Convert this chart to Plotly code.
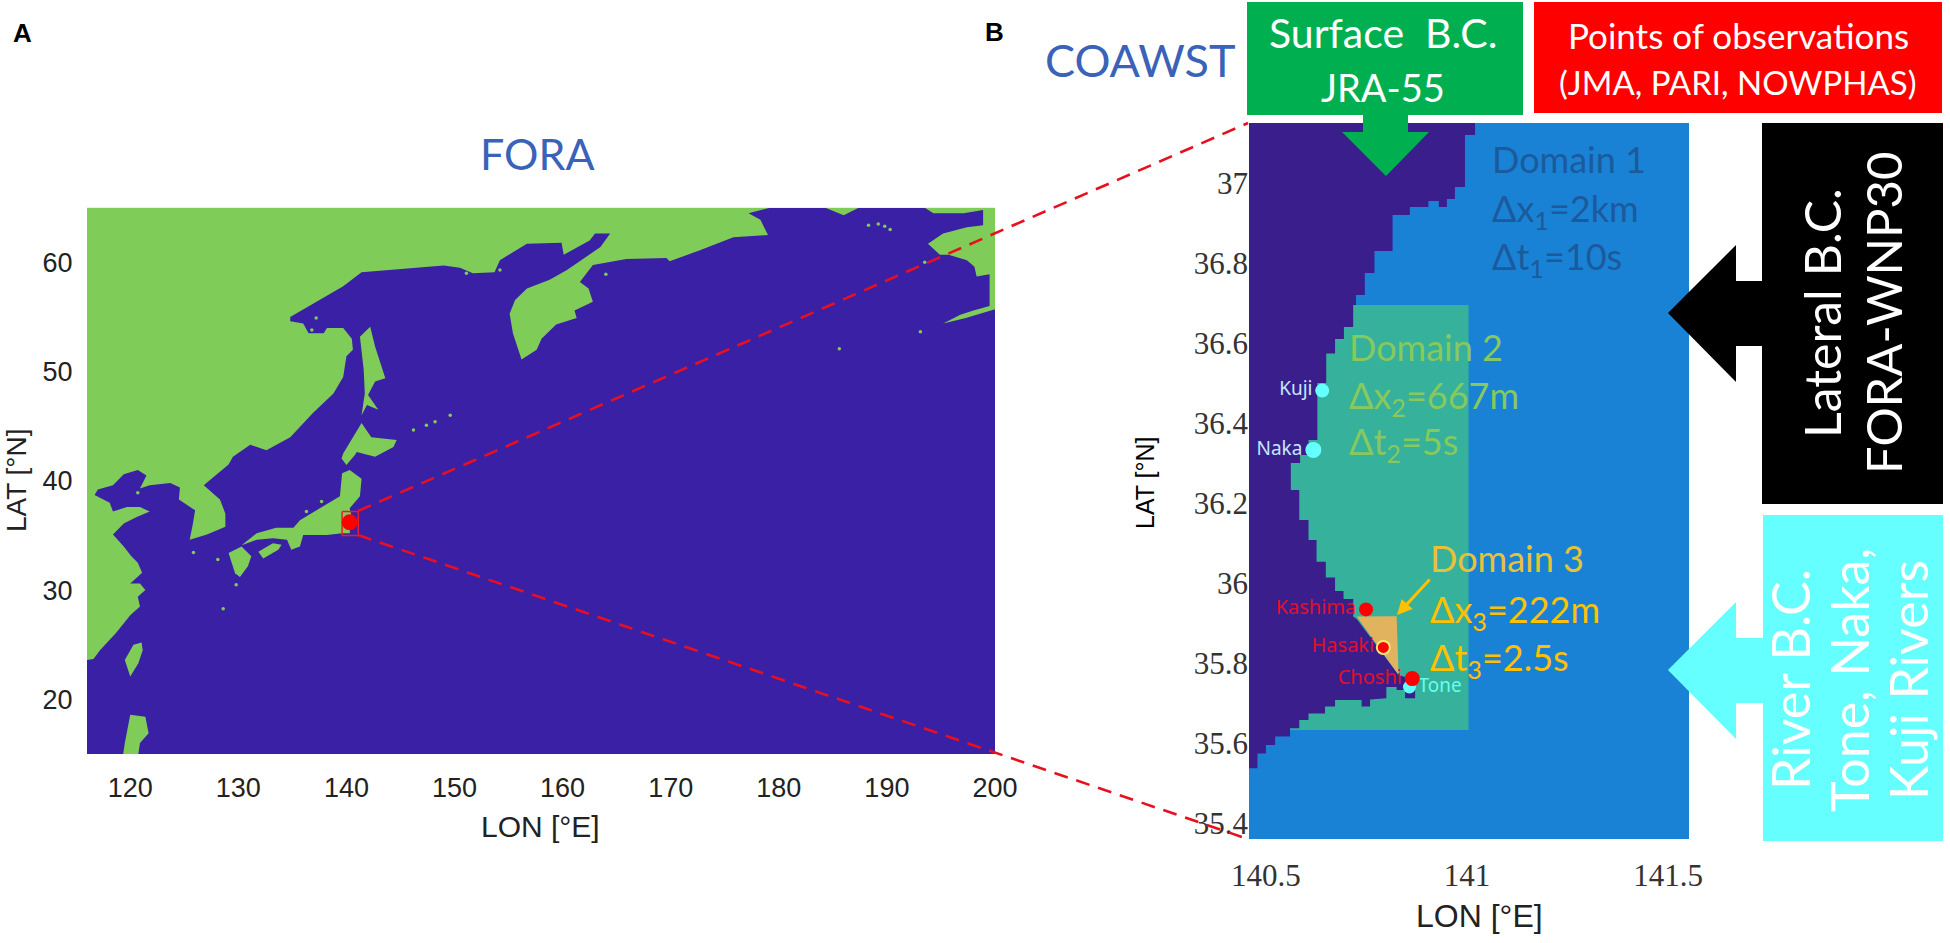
import plotly.graph_objects as go

W, H = 1950, 943
# ---------- Panel A data (lon / lat) ----------
asia_lon = [116,116.6,117.2,118.7,120.0,120.9,120.7,121.4,120.9,120.0,121.1,120.7,120.1,119.4,118.4,119.4,120.6,121.8,120.9,119.7,118.4,118.1,116.7,117.0,118.4,119.4,120.7,121.5,120.9,121.8,123.7,124.6,124.5,126.0,125.8,125.5,127.1,128.8,128.8,128.3,126.8,129.1,129.5,131.1,132.6,134.8,136.9,138.8,139.7,140.0,140.6,140.5,139.7,138.2,137.9,136.5,136.0,134.8,134.8,138.1,139.7,141.4,145.6,149.0,150.5,151.7,153.7,154.2,156.7,159.9,160.1,162.5,163.0,164.4,163.5,160.4,158.8,156.7,155.6,155.1,155.4,156.2,157.6,158.05,159.4,161.3,161.1,162.8,162.4,161.6,162.8,165.9,169.6,169.9,172.7,175.8,179.0,178.3,177.2,179.2,179.2,116]
asia_lat = [23.6,23.7,24.5,26.1,27.7,28.5,29.4,30.0,30.6,30.6,31.6,32.5,33.1,34.0,35.1,36.1,36.7,37.2,37.6,37.6,37.2,38.0,38.7,39.2,39.6,40.6,41.0,40.5,39.3,39.6,39.8,39.4,38.3,37.3,36.1,34.6,35.1,35.8,37.0,38.3,39.6,41.5,42.2,43.3,42.8,44.0,46.2,48.0,49.5,51.4,52.0,53.0,54.0,54.0,53.5,53.5,54.4,54.6,55.0,56.9,57.8,59.1,59.4,59.7,59.5,59.0,59.1,60.2,61.7,61.8,60.7,62.0,62.65,62.65,61.4,59.3,58.4,57.6,56.55,55.3,53.5,51.1,52.0,53.0,54.3,54.9,55.6,56.4,57.6,58.2,59.75,60.3,60.4,60.1,61.1,62.3,62.5,63.9,64.5,64.95,65,65]
honshu_lon = [130.3,131.7,133.5,135.1,135.7,137.2,139.4,139.6,140.3,141.4,141.25,140.3,140.5,140.3,139.6,138.2,136.0,135.7,134.9,134.5,133.2,131.7]
honshu_lat = [34.1,35.2,35.7,35.7,36.4,37.3,38.6,40.7,41.0,40.2,38.6,37.5,36.7,35.2,35.2,35.05,35.05,34.0,33.7,34.6,34.75,34.6]
shikoku_lon = [131.85,133.2,134.0,133.7,132.3]
shikoku_lat = [33.5,34.3,34.15,33.7,32.9]
kyushu_lon = [129.1,130.3,131.2,130.9,130.15,129.7,129.4]
kyushu_lat = [33.4,34.0,33.1,32.2,31.2,31.55,32.45]
hokkaido_lon = [141.4,142.3,144.65,144.35,142.65,140.95,140.8,140.0,139.55,139.7]
hokkaido_lat = [45.3,44.0,43.75,43.1,42.2,42.65,42.4,41.45,42.05,42.5]
sakhalin_lon = [142.2,142.65,143.6,142.65,142.0,142.95,141.9,141.4,141.7,141.6,141.25]
sakhalin_lat = [54.1,52.3,49.4,49.1,47.85,46.5,46.95,46.0,48.0,50.15,53.2]
taiwan_lon = [121.05,120.3,119.5,120.0,120.75,121.15]
taiwan_lat = [25.2,25.0,23.6,22.1,23.3,24.5]
luzon_lon = [120.0,121.4,121.7,120.9,120.75,119.35,119.5,119.8]
luzon_lat = [18.6,18.4,16.9,16.0,15,15,16.0,17.5]
alaska_lon = [193.5,194.3,197.1,198.9,198.9,197.4,195.2,193.8,194.9,195.7,197.4,198.1,198.3,199.5,199.5,198.0,196.8,195.2,197.3,200,200]
alaska_lat = [65,64.5,64.5,64.8,63.4,63.2,62.65,61.7,60.7,60.7,60.2,59.6,58.7,58.9,56.0,55.6,55.2,54.4,54.9,55.7,65]
chukchi_lon = [184.3,186.0,187.4]
chukchi_lat = [65,64.3,65]
islet_lon = [147.4,148.2,149.6,146.2,137.2,136.8,125.85,128.1,129.8,128.6,136.3,137.7,120.7,188.3,189.2,189.8,190.3,193.5,193.1,185.6,164.0,154.2,151.1]
islet_lat = [45.1,45.4,46.0,44.65,54.9,53.8,33.45,32.8,30.5,28.3,37.2,38.1,38.9,63.4,63.5,63.3,63.0,60.0,53.65,52.1,58.9,59.3,59.0]
box_lon = [139.6,141.1,141.1,139.6,139.6]
box_lat = [37.2,37.2,35.0,35.0,37.2]
area_lon = [140.3]
area_lat = [36.2]

# ---------- Panel B data (lon / lat) ----------
land_lon = [140.458,141.02,141.02,140.995,140.995,140.97,140.97,140.95,140.95,140.93,140.93,140.904,140.904,140.858,140.858,140.815,140.815,140.77,140.77,140.746,140.746,140.724,140.724,140.717,140.717,140.694,140.694,140.672,140.672,140.65,140.65,140.628,140.628,140.606,140.606,140.585,140.585,140.562,140.562,140.583,140.583,140.606,140.606,140.626,140.626,140.649,140.649,140.672,140.672,140.693,140.693,140.717,140.717,140.726,140.83,140.842,140.871,140.871,140.846,140.846,140.825,140.825,140.7995,140.7995,140.759,140.759,140.738,140.738,140.672,140.672,140.647,140.647,140.606,140.606,140.583,140.583,140.56,140.56,140.523,140.523,140.5,140.5,140.479,140.479,140.458]
land_lat = [37.15,37.15,37.12,37.12,36.99,36.99,36.96,36.96,36.94,36.94,36.955,36.955,36.94,36.94,36.92,36.92,36.83,36.83,36.775,36.775,36.72,36.72,36.695,36.695,36.64,36.64,36.61,36.61,36.574,36.574,36.5,36.5,36.3575,36.3575,36.32,36.32,36.30,36.30,36.2325,36.2325,36.1575,36.1575,36.1075,36.1075,36.053,36.053,36.014,36.014,35.98,35.98,35.96,35.96,35.916,35.91,35.77,35.766,35.757,35.712,35.712,35.7325,35.7325,35.74,35.74,35.712,35.709,35.691,35.691,35.7075,35.7075,35.691,35.691,35.674,35.674,35.6575,35.6575,35.637,35.637,35.616,35.616,35.595,35.595,35.574,35.574,35.537,35.537]
d1_lon = [140.458,141.552,141.552,140.458]
d1_lat = [37.15,37.15,35.36,35.36]
d2_lon = [140.458,141.004,141.004,140.458]
d2_lat = [36.695,36.695,35.6325,35.6325]
d3_lon = [140.726,140.825,140.83]
d3_lat = [35.916,35.917,35.77]
river_names = ["Kuji","Naka","Tone"]
river_lon = [140.64,140.618,140.857]
river_lat = [36.481,36.3325,35.74]
obs_names = ["Kashima","Hasaki","Choshi"]
obs_lon = [140.749,140.792,140.864]
obs_lat = [35.934,35.839,35.761]

a_xticks = [120,130,140,150,160,170,180,190,200]
a_yticks = [20,30,40,50,60]
b_xticks = [140.5,141,141.5]
b_xlabels = ["140.5","141","141.5"]
b_yticks = [35.4,35.6,35.8,36,36.2,36.4,36.6,36.8,37]
b_ylabels = ["35.4","35.6","35.8","36","36.2","36.4","36.6","36.8","37"]

OCEAN, GREEN = "#3a20a5", "#80cc58"
BLAND, BLUE, TEAL, TAN = "#3a1f8c", "#1a82d4", "#36b19b", "#e2b35f"
SANS, SERIF, CAL = "Liberation Sans", "Liberation Serif", "Lato"

def fx(p): return p / W
def fy(p): return 1 - p / H

fig = go.Figure()

def poly(lon, lat, color, ax="x", ay="y", name=""):
    fig.add_trace(go.Scatter(x=list(lon)+[lon[0]], y=list(lat)+[lat[0]], mode="lines", fill="toself",
                             fillcolor=color, line=dict(width=0, color=color), hoverinfo="skip",
                             xaxis=ax, yaxis=ay, name=name, showlegend=False))

# Panel A
poly([116,200,200,116],[65,65,15,15],OCEAN)
for lo, la in [(asia_lon,asia_lat),(honshu_lon,honshu_lat),(shikoku_lon,shikoku_lat),(kyushu_lon,kyushu_lat),
               (hokkaido_lon,hokkaido_lat),(sakhalin_lon,sakhalin_lat),(taiwan_lon,taiwan_lat),(luzon_lon,luzon_lat),
               (alaska_lon,alaska_lat),(chukchi_lon,chukchi_lat)]:
    poly(lo, la, GREEN)
fig.add_trace(go.Scatter(x=islet_lon,y=islet_lat,mode="markers",marker=dict(color=GREEN,size=3.5,line=dict(width=0)),hoverinfo="skip",showlegend=False))
fig.add_trace(go.Scatter(x=box_lon,y=box_lat,mode="lines",line=dict(color="#e81a2c",width=1.5),hoverinfo="skip",showlegend=False))
fig.add_trace(go.Scatter(x=area_lon,y=area_lat,mode="markers",marker=dict(color="#ff0000",size=16,line=dict(width=0)),hoverinfo="skip",showlegend=False))

# Panel B
poly(d1_lon,d1_lat,BLUE,"x2","y2")
poly(d2_lon,d2_lat,TEAL,"x2","y2")
poly(land_lon,land_lat,BLAND,"x2","y2")
poly(d3_lon,d3_lat,TAN,"x2","y2")
fig.add_trace(go.Scatter(x=river_lon[:2],y=river_lat[:2],mode="markers+text",text=river_names[:2],textposition="middle left",
    marker=dict(color="#66ffff",size=[14,16],opacity=1,line=dict(width=0)),textfont=dict(family="Noto Sans",size=19,color="#c4e8ff"),
    xaxis="x2",yaxis="y2",hoverinfo="skip",showlegend=False))
fig.add_trace(go.Scatter(x=river_lon[2:],y=river_lat[2:],mode="markers+text",text=river_names[2:],textposition="middle right",
    marker=dict(color="#66ffff",size=13,opacity=1,line=dict(width=0)),textfont=dict(family="Noto Sans",size=19,color="#66ffee"),
    xaxis="x2",yaxis="y2",hoverinfo="skip",showlegend=False))
fig.add_trace(go.Scatter(x=obs_lon,y=obs_lat,mode="markers+text",text=obs_names,textposition="middle left",
    marker=dict(color="#ff0000",size=[14,13,15],opacity=1,line=dict(width=[0,2,0],color="#f4e87a")),
    textfont=dict(family="Noto Sans",size=20,color="#e0102a"),
    xaxis="x2",yaxis="y2",hoverinfo="skip",showlegend=False))

shapes = []
def rect(x0,y0,x1,y1,c):
    shapes.append(dict(type="rect",xref="paper",yref="paper",x0=fx(x0),x1=fx(x1),y0=fy(y1),y1=fy(y0),fillcolor=c,line=dict(width=0),layer="above"))
def path(pts,c):
    d = "M "+" L ".join(f"{fx(x):.5f},{fy(y):.5f}" for x,y in pts)+" Z"
    shapes.append(dict(type="path",xref="paper",yref="paper",path=d,fillcolor=c,line=dict(width=0),layer="above"))
def dash(x0,y0,x1,y1):
    shapes.append(dict(type="line",xref="paper",yref="paper",x0=fx(x0),x1=fx(x1),y0=fy(y0),y1=fy(y1),
                       line=dict(color="#e8101f",width=2.6,dash="14px,9px"),layer="above"))

dash(358,511,1248,123)
dash(358,535,1248,839)
rect(1247,2,1523,115,"#00b050")
rect(1534,2,1942,113,"#ff0000")
path([(1363,115),(1408,115),(1408,132),(1429,132),(1386,176),(1342,132),(1363,132)],"#00b050")
rect(1762,123,1943,504,"#000000")
path([(1668,313),(1736,245),(1736,281),(1765,281),(1765,346),(1736,346),(1736,382)],"#000000")
rect(1763,515,1943,841,"#66ffff")
path([(1668,670),(1736,602),(1736,638),(1765,638),(1765,703),(1736,703),(1736,739)],"#66ffff")

ann = []
def text(x,y,s,size,color,family=CAL,anchor="center",angle=0):
    ann.append(dict(xref="paper",yref="paper",x=fx(x),y=fy(y),text=s,showarrow=False,xanchor=anchor,yanchor="middle",
                    textangle=angle,font=dict(family=family,size=size,color=color),align="left"))
text(22,33,"<b>A</b>",26,"#000",SANS)
text(994,32,"<b>B</b>",26,"#000",SANS)
text(537,153,"FORA",43,"#3a62b8")
text(1140,60,"COAWST",45,"#3a62b8")
text(1383,33,"Surface  B.C.",41,"#ffffff")
text(1383,87,"JRA-55",38,"#ffffff")
text(1738,35,"Points of observations",35,"#ffffff")
text(1738,82,"(JMA, PARI, NOWPHAS)",33,"#ffffff")
text(1822,313,"Lateral B.C.",50,"#ffffff",angle=-90)
text(1883,313,"FORA-WNP30",49,"#ffffff",angle=-90)
text(1790,680,"River B.C.",52,"#ffffff",angle=-90)
text(1849,680,"Tone, Naka,",52,"#ffffff",angle=-90)
text(1908,680,"Kuji Rivers",52,"#ffffff",angle=-90)
c1,c2,c3,c3b = "#1b5a9c","#86c95e","#e6c238","#ffc000"
text(1490,159,"Domain 1",36,c1,anchor="left")
text(1490,210,"Δx<sub>1</sub>=2km",36,c1,anchor="left")
text(1490,259,"Δt<sub>1</sub>=10s",36,c1,anchor="left")
text(1347,347,"Domain 2",36,c2,anchor="left")
text(1347,397,"Δx<sub>2</sub>=667m",36,c2,anchor="left")
text(1347,444,"Δt<sub>2</sub>=5s",36,c2,anchor="left")
text(1428,558,"Domain 3",36,c3,anchor="left")
text(1428,611,"Δx<sub>3</sub>=222m",36,c3b,anchor="left")
text(1428,659,"Δt<sub>3</sub>=2.5s",36,c3b,anchor="left")
text(17,480,"LAT [°N]",28,"#222",SANS,angle=-90)
text(540,826,"LON [°E]",30,"#222",SANS)
text(1145,483,"LAT [°N]",25,"#000",SANS,angle=-90)
text(1479,916,"LON [°E]",32,"#222",SANS)
ann.append(dict(xref="x2",yref="y2",x=140.826,y=35.92,ax=34,ay=-37,text="",showarrow=True,arrowhead=2,arrowsize=1,
                arrowwidth=3,arrowcolor="#ffc000",standoff=0))

fig.update_layout(
    width=W,height=H,margin=dict(l=0,r=0,t=0,b=0),paper_bgcolor="white",plot_bgcolor="white",showlegend=False,
    shapes=shapes,annotations=ann,
    xaxis=dict(domain=[fx(87),fx(995)],range=[116,200],tickvals=a_xticks,ticks="outside",ticklen=10,tickcolor="rgba(0,0,0,0)",
               showgrid=False,zeroline=False,showline=False,automargin=False,tickfont=dict(family=SANS,size=27,color="#222")),
    yaxis=dict(domain=[fy(754),fy(207.7)],range=[15,65],tickvals=a_yticks,ticks="outside",ticklen=8,tickcolor="rgba(0,0,0,0)",
               showgrid=False,zeroline=False,showline=False,automargin=False,tickfont=dict(family=SANS,size=27,color="#222")),
    xaxis2=dict(domain=[fx(1249),fx(1689)],range=[140.458,141.552],anchor="y2",tickvals=b_xticks,ticktext=b_xlabels,ticks="outside",ticklen=9,
                tickcolor="rgba(0,0,0,0)",showgrid=False,zeroline=False,showline=False,automargin=False,tickfont=dict(family=SERIF,size=31,color="#333")),
    yaxis2=dict(domain=[fy(839),fy(123)],range=[35.36,37.15],anchor="x2",tickvals=b_yticks,ticktext=b_ylabels,ticks="",ticklen=0,
                tickcolor="rgba(0,0,0,0)",showgrid=False,zeroline=False,showline=False,automargin=False,tickfont=dict(family=SERIF,size=31,color="#333")),
)
fig.write_html("out.html",config={"displayModeBar":False},post_script="document.body.style.margin='0';document.body.style.overflow='hidden';")
